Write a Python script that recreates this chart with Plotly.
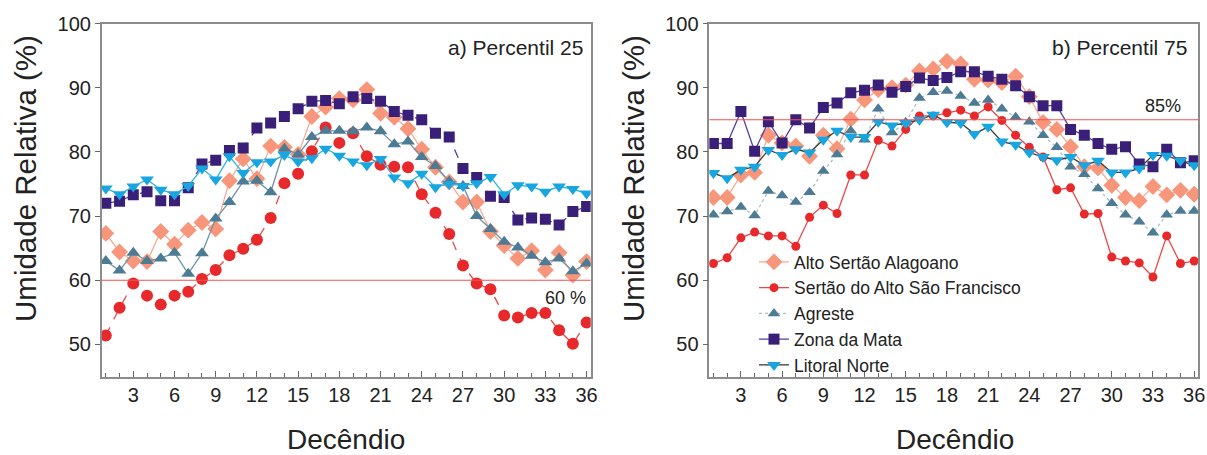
import plotly.graph_objects as go

# Decêndio 1..36
decendio = list(range(1, 37))
tick_vals = list(range(3, 37, 3))

names = ["Alto Sertão Alagoano", "Sertão do Alto São Francisco", "Agreste",
         "Zona da Mata", "Litoral Norte"]

# a) Percentil 25
alto_p25 = [67.3, 64.4, 63.0, 62.9, 67.6, 65.6, 67.8, 69.0, 68.0, 75.5, 78.9, 75.8,
            80.9, 80.7, 79.6, 85.5, 87.0, 88.3, 88.1, 89.7, 86.0, 85.4, 83.6, 80.4,
            77.6, 75.3, 72.2, 72.2, 67.6, 65.4, 63.4, 64.6, 61.6, 64.3, 60.8, 62.9]
sertao_p25 = [51.4, 55.7, 59.5, 57.6, 56.2, 57.6, 58.2, 60.2, 61.6, 63.9, 64.9, 66.3,
              69.7, 75.1, 76.6, 80.1, 83.8, 81.4, 82.9, 79.3, 78.0, 77.7, 77.6, 73.4,
              70.5, 67.2, 62.3, 59.5, 58.6, 54.5, 54.2, 54.9, 54.9, 52.2, 50.1, 53.4]
agreste_p25 = [63.0, 61.5, 64.3, 63.0, 63.4, 64.3, 61.0, 64.2, 69.6, 72.2, 75.4, 75.5,
               73.7, 80.5, 79.6, 82.3, 83.3, 83.3, 83.2, 83.8, 83.2, 81.2, 81.6, 79.2,
               77.8, 75.4, 74.7, 70.0, 68.0, 66.0, 65.1, 63.8, 62.8, 63.4, 61.4, 62.6]
zona_p25 = [72.0, 72.3, 73.3, 73.8, 72.4, 72.4, 74.4, 78.1, 78.7, 80.2, 80.6, 83.7,
            84.5, 85.5, 86.7, 87.9, 88.0, 87.5, 88.6, 88.3, 87.9, 86.3, 85.7, 85.0,
            82.9, 82.3, 77.4, 76.0, 73.1, 72.9, 69.4, 69.7, 69.5, 68.6, 70.7, 71.5]
litoral_p25 = [74.3, 73.4, 74.6, 75.7, 74.1, 73.4, 74.7, 77.4, 75.7, 79.3, 76.7, 78.4,
               78.5, 79.5, 78.5, 79.0, 80.5, 79.4, 78.5, 77.9, 78.9, 76.0, 75.1, 76.6,
               74.5, 75.0, 74.7, 75.1, 76.1, 73.4, 74.8, 74.6, 73.8, 74.6, 74.2, 73.5]

# b) Percentil 75
alto_p75 = [72.9, 72.9, 76.4, 76.8, 82.6, 81.4, 80.9, 79.3, 82.6, 80.5, 85.1, 88.1,
            89.7, 90.0, 90.4, 92.6, 92.9, 94.1, 93.7, 91.3, 91.2, 90.8, 91.8, 88.6,
            84.6, 83.5, 80.8, 77.7, 77.5, 74.8, 72.9, 72.4, 74.6, 73.3, 74.0, 73.4]
sertao_p75 = [62.6, 63.5, 66.6, 67.5, 66.9, 66.9, 65.3, 69.8, 71.7, 70.4, 76.4, 76.4,
              81.8, 80.9, 83.5, 85.6, 85.6, 86.1, 86.5, 85.6, 87.0, 84.9, 82.6, 80.7,
              79.2, 74.1, 74.4, 70.3, 70.4, 63.6, 63.0, 62.7, 60.5, 66.9, 62.6, 63.0]
agreste_p75 = [70.2, 70.7, 71.4, 70.1, 73.9, 73.2, 72.2, 73.7, 77.0, 79.6, 83.3, 81.9,
               86.7, 83.0, 84.6, 88.4, 89.3, 89.5, 88.7, 87.6, 88.1, 86.7, 85.4, 84.7,
               82.6, 80.7, 77.7, 76.5, 74.3, 72.0, 70.2, 69.1, 67.4, 70.2, 70.8, 70.8]
zona_p75 = [81.3, 81.3, 86.3, 80.1, 84.7, 81.4, 85.0, 83.7, 86.9, 87.6, 89.2, 89.6,
            90.4, 89.3, 90.2, 91.5, 91.1, 91.6, 92.5, 92.5, 91.8, 91.3, 90.3, 88.6,
            87.2, 87.2, 83.5, 82.6, 81.3, 80.4, 80.8, 78.1, 77.7, 80.4, 78.3, 78.6]
litoral_p75 = [76.7, 75.9, 77.2, 77.7, 80.3, 79.5, 80.4, 79.9, 81.9, 83.3, 82.3, 82.3,
               84.7, 84.1, 84.5, 85.0, 85.8, 84.6, 84.5, 82.8, 83.9, 81.6, 81.1, 79.9,
               79.2, 78.7, 79.2, 77.9, 78.6, 76.8, 76.8, 77.4, 79.5, 79.4, 78.6, 77.9]

limit_p25 = 60
limit_p75 = 85

FONT = "Liberation Sans, Arial, sans-serif"
TXT = "#222222"
W, H = 1207, 455


def px_x(x):
    return x / W


def px_y(y):
    return 1 - y / H


c_alto = "#F7967A"
c_sertao = "#E8292B"
c_agreste = "#4C7B93"
c_zona = "#3A1F78"
c_litoral = "#17A6E0"

fig = go.Figure()

# left panel styles: (values, marker color, symbol, size, line color, dash)
left = [
    (alto_p25, c_alto, "diamond", 13, "#F9AA92", "solid"),
    (sertao_p25, c_sertao, "circle", 12, "#EC4848", "dash"),
    (agreste_p25, c_agreste, "triangle-up", 12, "#6E93A7", "solid"),
    (zona_p25, c_zona, "square", 11, "#55399A", "dash"),
    (litoral_p25, c_litoral, "triangle-down", 12, "#2DB2E6", "solid"),
]
for nm, (vals, mc, sym, sz, lc, dash) in zip(names, left):
    fig.add_trace(go.Scatter(
        x=decendio, y=vals, name=nm, mode="lines+markers", showlegend=False,
        line=dict(color=lc, width=1.3, dash=dash),
        marker=dict(color=mc, symbol=sym, size=sz),
        xaxis="x", yaxis="y"))

right = [
    (alto_p75, c_alto, "diamond", 13, "#F9AA92", "solid"),
    (sertao_p75, c_sertao, "circle", 9, "#EC4848", "solid"),
    (agreste_p75, c_agreste, "triangle-up", 11, "#A9BDCB", "dot"),
    (zona_p75, c_zona, "square", 11, "#5A42A0", "solid"),
    (litoral_p75, c_litoral, "triangle-down", 12, "#3A3A3A", "solid"),
]
for nm, (vals, mc, sym, sz, lc, dash) in zip(names, right):
    fig.add_trace(go.Scatter(
        x=decendio, y=vals, name=nm, mode="lines+markers", showlegend=True,
        line=dict(color=lc, width=1.3, dash=dash),
        marker=dict(color=mc, symbol=sym, size=sz),
        xaxis="x2", yaxis="y2"))

y_dom = [px_y(376.5), px_y(23.5)]

xcommon = dict(range=[0.7, 36.3], tickvals=tick_vals, ticks="inside", ticklen=6,
               tickcolor="#666", minor=dict(tickvals=decendio, ticks="inside",
                                            ticklen=4, tickcolor="#666"),
               showline=True, mirror=True, linecolor="#8c8c8c", linewidth=1.5,
               showgrid=False, zeroline=False, automargin=False,
               tickfont=dict(family=FONT, size=20, color=TXT))
ycommon = dict(range=[45, 100], tickvals=[50, 60, 70, 80, 90, 100], ticks="outside",
               ticklen=5, tickcolor="#666", showline=True, mirror=True,
               linecolor="#8c8c8c", linewidth=1.5, showgrid=False, zeroline=False,
               automargin=False, tickfont=dict(family=FONT, size=20, color=TXT))

fig.update_layout(
    template="none",
    width=W, height=H, autosize=False,
    margin=dict(l=0, r=0, t=0, b=0, pad=0),
    paper_bgcolor="white", plot_bgcolor="white",
    font=dict(family=FONT, color=TXT),
    hovermode=False,
    xaxis=dict(domain=[px_x(101.7), px_x(590.7)], anchor="y", **xcommon),
    yaxis=dict(domain=y_dom, anchor="x", **ycommon),
    xaxis2=dict(domain=[px_x(709.3), px_x(1198.3)], anchor="y2", **xcommon),
    yaxis2=dict(domain=y_dom, anchor="x2", **ycommon),
    legend=dict(x=px_x(754), y=px_y(244), xanchor="left", yanchor="top",
                bgcolor="rgba(0,0,0,0)", font=dict(family=FONT, size=17.5, color=TXT),
                tracegroupgap=0),
    showlegend=True,
)

# reference lines
fig.add_shape(type="line", xref="x domain", yref="y", x0=0, x1=1,
              y0=limit_p25, y1=limit_p25, line=dict(color="#F25050", width=1.2))
fig.add_shape(type="line", xref="x2 domain", yref="y2", x0=0, x1=1,
              y0=limit_p75, y1=limit_p75, line=dict(color="#F25050", width=1.2))

ann = [
    dict(x=36.1, y=57.2, xref="x", yref="y", text="60 %", xanchor="right", size=18),
    dict(x=35.2, y=87.2, xref="x2", yref="y2", text="85%", xanchor="right", size=18),
    dict(x=35.9, y=96.2, xref="x", yref="y", text="a) Percentil 25", xanchor="right", size=21),
    dict(x=35.6, y=96.2, xref="x2", yref="y2", text="b) Percentil 75", xanchor="right", size=21),
]
for a in ann:
    fig.add_annotation(x=a["x"], y=a["y"], xref=a["xref"], yref=a["yref"],
                       text=a["text"], xanchor=a["xanchor"], yanchor="middle",
                       showarrow=False, font=dict(family=FONT, size=a["size"], color=TXT))

# axis titles
for xc in (26, 634):
    fig.add_annotation(x=px_x(xc), y=px_y(179), xref="paper", yref="paper",
                       text="Umidade Relativa (%)", textangle=-90, showarrow=False,
                       xanchor="center", yanchor="middle",
                       font=dict(family=FONT, size=29.5, color=TXT))
for xc in (346, 955):
    fig.add_annotation(x=px_x(xc), y=px_y(439), xref="paper", yref="paper",
                       text="Decêndio", showarrow=False, xanchor="center",
                       yanchor="middle", font=dict(family=FONT, size=28, color=TXT))

# drop the page's default 8px body margin so the figure fills the window exactly
fig.write_html("out.html", config={"displayModeBar": False},
               post_script="document.body.style.margin = '0';")
